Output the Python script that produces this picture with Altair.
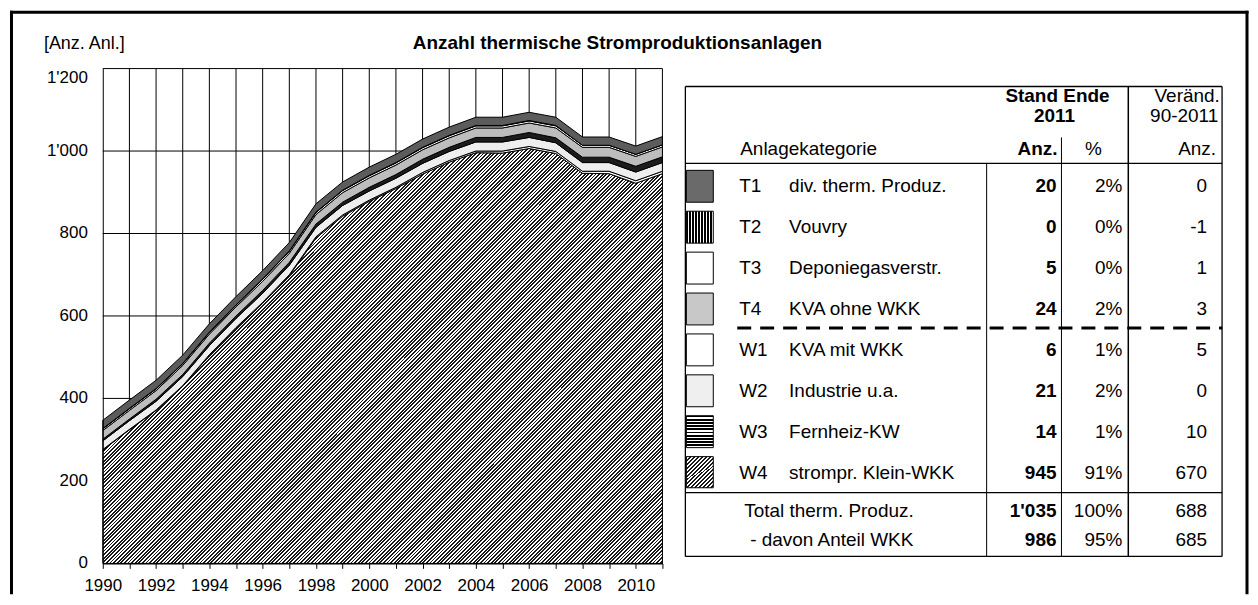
import altair as alt
import pandas as pd

# ---------------- data ----------------
years = list(range(1990, 2012))
W4 = [275, 324, 371, 430, 504, 570, 631, 698, 789, 842, 878, 909, 944, 973, 996, 995, 1006, 994, 946, 945, 922, 945]
W3 = [4, 4, 5, 5, 6, 6, 7, 7, 8, 8, 9, 9, 10, 10, 11, 11, 12, 12, 13, 13, 14, 14]
W2 = [21, 21, 21, 22, 22, 22, 22, 23, 23, 23, 22, 22, 22, 22, 22, 22, 22, 21, 21, 21, 21, 21]
W1 = [1, 1, 1, 1, 2, 2, 2, 2, 3, 3, 3, 3, 4, 4, 4, 5, 5, 5, 5, 6, 6, 6]
T4 = [21, 21, 21, 22, 22, 22, 22, 22, 23, 23, 23, 23, 23, 23, 23, 23, 23, 24, 24, 24, 24, 24]
T3 = [4, 4, 4, 4, 4, 4, 5, 5, 5, 5, 5, 5, 5, 5, 5, 5, 5, 5, 5, 5, 5, 5]
T2 = [1, 1, 1, 1, 1, 1, 1, 1, 1, 1, 1, 1, 1, 1, 1, 1, 1, 1, 0, 0, 0, 0]
T1 = [20, 20, 20, 20, 20, 20, 20, 20, 20, 20, 20, 20, 20, 20, 20, 20, 20, 20, 20, 20, 20, 20]
series = {"T1": T1, "T2": T2, "T3": T3, "T4": T4, "W1": W1, "W2": W2, "W3": W3, "W4": W4}

codes = ["T1", "T2", "T3", "T4", "W1", "W2", "W3", "W4"]
names = ["div. therm. Produz.", "Vouvry", "Deponiegasverstr.", "KVA ohne WKK",
         "KVA mit WKK", "Industrie u.a.", "Fernheiz-KW", "strompr. Klein-WKK"]
anz_2011 = ["20", "0", "5", "24", "6", "21", "14", "945"]
pct_2011 = ["2%", "0%", "0%", "2%", "1%", "2%", "1%", "91%"]
chg_90_2011 = ["0", "-1", "1", "3", "5", "0", "10", "670"]
total_labels = ["Total therm. Produz.", "- davon Anteil WKK"]
total_anz = ["1'035", "986"]
total_pct = ["100%", "95%"]
total_chg = ["688", "685"]

y_ticks = [0, 200, 400, 600, 800, 1000, 1200]
y_tick_labels = ["0", "200", "400", "600", "800", "1'000", "1'200"]

title_text = "Anzahl thermische Stromproduktionsanlagen"
unit_text = "[Anz. Anl.]"

# ---------------- style / layout ----------------
FONT = "Liberation Sans"
W, H = 561, 496
stack_order = ["W4", "W1", "W2", "W3", "T4", "T3", "T2", "T1"]  # bottom -> top


def stripes(n, frac, dark, light, x2, y2):
    stops = []
    for k in range(n):
        a = round(k / n, 6)
        b = round((k + frac) / n, 6)
        c = round((k + 1) / n, 6)
        stops += [alt.GradientStop(offset=a, color=dark), alt.GradientStop(offset=b, color=dark),
                  alt.GradientStop(offset=b, color=light), alt.GradientStop(offset=c, color=light)]
    return alt.LinearGradient(gradient="linear", stops=stops, x1=0, y1=0, x2=x2, y2=y2)


hatch_big = stripes(271, 0.5, "#1a1a1a", "#ffffff", 1.124, 0.833)
hatch_small = stripes(15, 0.5, "#1a1a1a", "#ffffff", 0.909, 1.077)
vlines = stripes(9, 0.4, "#000000", "#ffffff", 1, 0)
hlines = stripes(10, 0.55, "#000000", "#ffffff", 0, 1)

area_fill = {"W4": hatch_big, "W1": "#ffffff", "W2": "#eeeeee", "W3": "#1c1c1c",
             "T4": "#bdbdbd", "T3": "#ffffff", "T2": "#444444", "T1": "#5c5c5c"}
swatch_fill = {"T1": "#6a6a6a", "T2": vlines, "T3": "#ffffff", "T4": "#c8c8c8",
               "W1": "#ffffff", "W2": "#efefef", "W3": hlines, "W4": hatch_small}

xs = alt.Scale(domain=[1990, 2011], nice=False, zero=False)
ys = alt.Scale(domain=[0, 1200], nice=False)

x_axis = alt.Axis(values=years, format="d",
                  labelExpr="datum.value % 2 == 0 && datum.value < 2011 ? datum.label : ''",
                  labelFlush=False, labelOverlap=False, labelFontSize=17, labelColor="black",
                  labelPadding=9, tickSize=5, tickColor="black", tickWidth=1,
                  domainColor="black", domainWidth=1.5, grid=False, title=None, zindex=1)
y_axis = alt.Axis(values=y_ticks, labels=False, ticks=False, grid=False,
                  domainColor="black", domainWidth=1, title=None, zindex=1)

# ---------------- plot ----------------
recs = []
for o, c in enumerate(stack_order):
    for yr, v in zip(years, series[c]):
        recs.append({"year": yr, "cat": c, "ord": o, "value": v})
long_df = pd.DataFrame(recs)

vgrid = alt.Chart(pd.DataFrame({"year": years[1:]})).transform_calculate(
    lo="0", hi="1200").mark_rule(color="black", strokeWidth=1).encode(
    x=alt.X("year:Q", scale=xs, axis=x_axis),
    y=alt.Y("lo:Q", scale=ys, axis=y_axis), y2="hi:Q")
hgrid = alt.Chart(pd.DataFrame({"v": y_ticks[1:]})).transform_calculate(
    a="1990", b="2011").mark_rule(color="black", strokeWidth=1).encode(
    y=alt.Y("v:Q", scale=ys, axis=y_axis),
    x=alt.X("a:Q", scale=xs, axis=x_axis), x2="b:Q")

base = alt.Chart(long_df).transform_stack(
    stack="value", groupby=["year"], as_=["v0", "v1"],
    sort=[alt.SortField("ord", order="ascending")])
areas = []
for c in stack_order:
    areas.append(
        base.transform_filter(alt.datum.cat == c)
        .mark_area(fill=area_fill[c], stroke="black", strokeWidth=1, interpolate="linear")
        .encode(x=alt.X("year:Q", scale=xs, axis=x_axis),
                y=alt.Y("v1:Q", scale=ys, axis=y_axis),
                y2="v0:Q"))

ylab = alt.Chart(pd.DataFrame({"v": y_ticks[:-1], "lab": y_tick_labels[:-1]})).mark_text(
    align="right", baseline="middle", fontSize=17, color="black").encode(
    x=alt.value(-15), y=alt.Y("v:Q", scale=ys, axis=y_axis), text="lab:N")
ylab_top = alt.Chart(pd.DataFrame({"v": y_ticks[-1:], "lab": y_tick_labels[-1:]})).mark_text(
    align="right", baseline="middle", fontSize=17, color="black", dy=9).encode(
    x=alt.value(-15), y=alt.Y("v:Q", scale=ys, axis=y_axis), text="lab:N")

plot_group = alt.layer(vgrid, hgrid, *areas, ylab, ylab_top)

# ---------------- table ----------------
row_scale = alt.Scale(domain=[0, 7, 8, 9], range=[118, 405, 444, 473], nice=False, zero=False)
rows_df = pd.DataFrame({"row": list(range(8)), "code": codes, "name": names})
vals_df = pd.DataFrame({"row": list(range(10)), "anz": anz_2011 + total_anz,
                        "pct": pct_2011 + total_pct, "chg": chg_90_2011 + total_chg})
tot_df = pd.DataFrame({"row": [8, 9], "lab": total_labels})

TFS = 19


def col_text(df, field, xpos, align, bold=False):
    return alt.Chart(df).mark_text(align=align, baseline="middle", fontSize=TFS, color="black",
                                   fontWeight="bold" if bold else "normal").encode(
        x=alt.value(xpos), y=alt.Y("row:Q", scale=row_scale, axis=None), text=f"{field}:N")


swatches = []
for c in codes:
    swatches.append(
        alt.Chart(rows_df).transform_filter(alt.datum.code == c)
        .transform_calculate(r0="datum.row - 0.39", r1="datum.row + 0.39")
        .mark_rect(fill=swatch_fill[c], stroke="black", strokeWidth=1)
        .encode(x=alt.value(585), x2=alt.value(612),
                y=alt.Y("r0:Q", scale=row_scale, axis=None), y2="r1:Q"))

table_group = alt.layer(
    *swatches,
    col_text(rows_df, "code", 638, "left"),
    col_text(rows_df, "name", 688, "left"),
    col_text(vals_df, "anz", 956, "right", bold=True),
    col_text(vals_df, "pct", 1022, "right"),
    col_text(vals_df, "chg", 1107, "right"),
    col_text(tot_df[tot_df.row == 8], "lab", 643, "left"),
    col_text(tot_df[tot_df.row == 9], "lab", 649, "left"),
)

# ---------------- decoration (frame, table lines, headings) ----------------
seg = pd.DataFrame([
    # outer frame
    {"x": -91.5, "x2": -91.5, "y": -58, "y2": 527, "w": 3},
    {"x": -93, "x2": 1148.5, "y": -56.5, "y2": -56.5, "w": 3},
    {"x": 1147, "x2": 1147, "y": -58, "y2": 527, "w": 3},
    # table box and rules
    {"x": 584, "x2": 1122, "y": 18, "y2": 18, "w": 1.3},
    {"x": 584, "x2": 1122, "y": 95, "y2": 95, "w": 1.3},
    {"x": 584, "x2": 1122, "y": 425, "y2": 425, "w": 1.3},
    {"x": 584, "x2": 1122, "y": 489, "y2": 489, "w": 1.3},
    {"x": 584, "x2": 584, "y": 18, "y2": 489, "w": 1.3},
    {"x": 1122, "x2": 1122, "y": 18, "y2": 489, "w": 1.3},
    {"x": 886, "x2": 886, "y": 95, "y2": 489, "w": 1},
    {"x": 961, "x2": 961, "y": 69, "y2": 489, "w": 1},
    {"x": 1028, "x2": 1028, "y": 18, "y2": 489, "w": 1.5},
])
lines = alt.Chart(seg).mark_rule(color="black").encode(
    x=alt.X("x:Q", scale=None, axis=None), x2="x2:Q",
    y=alt.Y("y:Q", scale=None, axis=None), y2="y2:Q",
    strokeWidth=alt.StrokeWidth("w:Q", scale=None))
dashed = alt.Chart(pd.DataFrame({"x": [636], "x2": [1122], "y": [260]})).mark_rule(
    color="black", strokeWidth=3, strokeDash=[14, 9]).encode(
    x=alt.X("x:Q", scale=None, axis=None), x2="x2:Q", y=alt.Y("y:Q", scale=None, axis=None))


def deco_text(items, align, bold=False):
    df = pd.DataFrame(items, columns=["t", "x", "y", "fs"])
    return alt.Chart(df).mark_text(align=align, baseline="middle", color="black",
                                   fontWeight="bold" if bold else "normal").encode(
        x=alt.X("x:Q", scale=None, axis=None), y=alt.Y("y:Q", scale=None, axis=None),
        size=alt.Size("fs:Q", scale=None, legend=None), text="t:N")


texts = alt.layer(
    deco_text([(title_text, 516, -26, 19), ("Stand Ende", 957, 28, TFS), ("2011", 954, 48, TFS)],
              "center", bold=True),
    deco_text([("Veränd.", 1087, 28, TFS), ("90-2011", 1084, 48, TFS), ("%", 993, 81, TFS)], "center"),
    deco_text([(unit_text, -59, -25, 18), ("Anlagekategorie", 639, 81, TFS)], "left"),
    deco_text([("Anz.", 957, 81, TFS)], "right", bold=True),
    deco_text([("Anz.", 1116, 81, TFS)], "right"),
)

deco_group = alt.layer(lines, dashed, texts)

chart = alt.layer(plot_group, table_group, deco_group).resolve_scale(
    x="independent", y="independent"
).properties(width=W, height=H, padding=0).configure(font=FONT).configure_view(stroke=None)

chart.save("out.html", embed_options={"renderer": "svg", "actions": False})
